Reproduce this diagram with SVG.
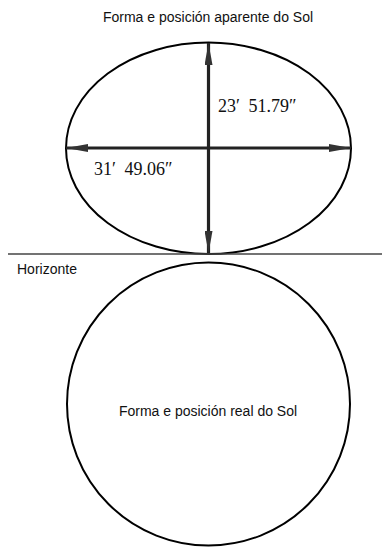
<svg xmlns="http://www.w3.org/2000/svg" width="382" height="548" viewBox="0 0 382 548">
<style>
.sans{font-family:"Liberation Sans",Arial,sans-serif;font-size:14px;fill:#111}
.serif{font-family:"Liberation Serif","DejaVu Serif",serif;font-size:18px;word-spacing:4px;fill:#111}
.shape{fill:none;stroke:#000;stroke-width:2}
.arrow{stroke:#222;stroke-width:3.2;fill:none}
</style>
<defs>
<marker id="ah" viewBox="0 0 22 8" refX="22" refY="4" markerWidth="22" markerHeight="8" markerUnits="userSpaceOnUse" orient="auto-start-reverse">
<path d="M0,0 L22,4 L0,8 Z" fill="#333"/>
</marker>
</defs>
<rect width="382" height="548" fill="#fff"/>
<text class="sans" x="208" y="22" text-anchor="middle">Forma e posición aparente do Sol</text>
<g id="apparent-sun">
<ellipse class="shape" cx="208.5" cy="148.3" rx="142.5" ry="105.7"/>
</g>
<g id="horizon">
<line x1="8" y1="254" x2="382" y2="254" stroke="#444" stroke-width="1.3"/>
<text class="sans" x="17" y="274">Horizonte</text>
</g>
<g id="real-sun">
<ellipse class="shape" cx="208.5" cy="404" rx="141.5" ry="141.5"/>
<text class="sans" x="208" y="416" text-anchor="middle">Forma e posición real do Sol</text>
</g>
<g id="connectors">
<line class="arrow" x1="208.5" y1="43" x2="208.5" y2="253" marker-start="url(#ah)" marker-end="url(#ah)"/>
<line class="arrow" x1="66" y1="148" x2="351" y2="148" marker-start="url(#ah)" marker-end="url(#ah)"/>
</g>
<text class="serif" x="218" y="111.5">23′ 51.79″</text>
<text class="serif" x="94" y="175">31′ 49.06″</text>
</svg>
